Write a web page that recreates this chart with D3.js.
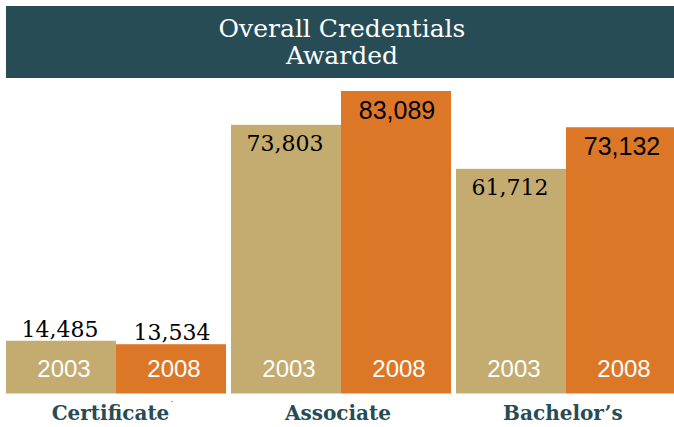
<!DOCTYPE html>
<html><head><meta charset="utf-8">
<script src="https://cdn.jsdelivr.net/npm/d3@7"></script>
<style>body{margin:0;background:#fff}svg{display:block}</style>
</head><body><svg id="c" width="674" height="427"></svg>
<script>
const categories = ["Certificate", "Associate", "Bachelor\u2019s"];
const years = ["2003", "2008"];
const values2003 = [14485, 73803, 61712];
const values2008 = [13534, 83089, 73132];
const titleLines = ["Overall Credentials", "Awarded"];

const colors = {"2003": "#c4ab70", "2008": "#dc7727"};
const dark = "#274c56";
const W = 674, H = 427;
const svg = d3.select("#c");

// title bar
svg.append("rect").attr("x", 6).attr("y", 6).attr("width", W - 6).attr("height", 72).attr("fill", dark);
svg.append("g").selectAll("text").data(titleLines).join("text")
  .attr("x", 342).attr("y", (d, i) => 37 + i * 27)
  .attr("text-anchor", "middle").attr("fill", "#fff")
  .attr("font-family", "'DejaVu Serif', serif").attr("font-size", 25)
  .text(d => d);

const data = [];
categories.forEach((c, i) => {
  data.push({cat: c, year: "2003", value: values2003[i]});
  data.push({cat: c, year: "2008", value: values2008[i]});
});

const x0 = d3.scaleBand().domain(categories).range([6, 676]).paddingInner(0.022).paddingOuter(0);
const x1 = d3.scaleBand().domain(years).range([0, x0.bandwidth()]).padding(0);
const y = d3.scaleLinear().domain([0, 83089]).range([393.5, 91]);

const g = svg.append("g");
g.selectAll("rect").data(data).join("rect")
  .attr("x", d => x0(d.cat) + x1(d.year))
  .attr("y", d => y(d.value))
  .attr("width", x1.bandwidth())
  .attr("height", d => y(0) - y(d.value))
  .attr("fill", d => colors[d.year]);

// year labels inside bars
g.selectAll("text.yr").data(data).join("text").attr("class", "yr")
  .attr("x", d => x0(d.cat) + x1(d.year) + x1.bandwidth() / 2 + 3)
  .attr("y", 377)
  .attr("text-anchor", "middle").attr("fill", "#fff")
  .attr("font-family", "'Liberation Sans', Arial, sans-serif").attr("font-size", 24)
  .text(d => d.year);

// value labels
const fmt = d3.format(",");
const inside = d => (y(0) - y(d.value)) >= 120;
const sans = d => inside(d) && d.year === "2008";
g.selectAll("text.val").data(data).join("text").attr("class", "val")
  .attr("x", d => x0(d.cat) + x1(d.year) + x1.bandwidth() / 2 + (d.year === "2003" ? -1 : 1))
  .attr("y", d => inside(d) ? y(d.value) + (sans(d) ? 28 : 26) : y(d.value) - 4)
  .attr("text-anchor", "middle").attr("fill", "#000")
  .attr("font-family", d => sans(d) ? "'Liberation Sans', Arial, sans-serif" : "'DejaVu Serif', serif")
  .attr("font-size", d => sans(d) ? 25 : 22)
  .text(d => fmt(d.value));

// category labels
const cl = svg.append("g").selectAll("text").data(categories).join("text")
  .attr("x", d => x0(d) + x0.bandwidth() / 2 - 3)
  .attr("y", 420)
  .attr("text-anchor", "middle").attr("fill", dark)
  .attr("font-family", "'DejaVu Serif', serif").attr("font-weight", "bold").attr("font-size", 20)
  .text(d => d);
cl.filter((d, i) => i === 0).append("tspan").attr("dy", -12).attr("font-size", 10).attr("font-weight", "normal").text("\u02d9");
</script></body></html>
